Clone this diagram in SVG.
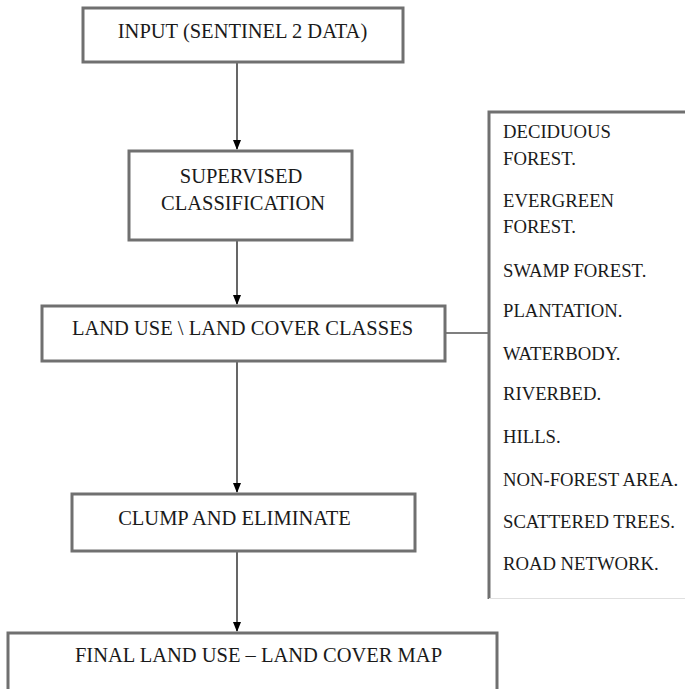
<svg xmlns="http://www.w3.org/2000/svg" width="685" height="689" viewBox="0 0 685 689">
<defs>
<style>
.box{fill:#fff;stroke:#707070;stroke-width:3}
.t{font-family:"Liberation Serif","Times New Roman",serif;font-size:20.5px;fill:#1a1a1a;text-anchor:middle}
.l{font-family:"Liberation Serif","Times New Roman",serif;font-size:18.7px;fill:#1a1a1a}
.c{stroke:#000;stroke-width:1.2;fill:none}
</style>
<marker id="ah" markerWidth="10" markerHeight="10" refX="9" refY="5" orient="auto" markerUnits="userSpaceOnUse">
<path d="M0,1 L10,5 L0,9 Z" fill="#000"/>
</marker>
</defs>
<rect width="685" height="689" fill="#fff"/>
<g id="connectors">
<line class="c" x1="237" y1="63" x2="237" y2="149" marker-end="url(#ah)"/>
<line class="c" x1="237" y1="241" x2="237" y2="304" marker-end="url(#ah)"/>
<line class="c" x1="237" y1="362" x2="237" y2="492" marker-end="url(#ah)"/>
<line class="c" x1="237" y1="552" x2="237" y2="631" marker-end="url(#ah)"/>
<line class="c" x1="446" y1="333" x2="488" y2="333"/>
</g>
<g id="input">
<rect class="box" x="83" y="8" width="320" height="54"/>
<text class="t" x="242.5" y="38">INPUT (SENTINEL 2 DATA)</text>
</g>
<g id="supervised">
<rect class="box" x="129" y="151" width="223" height="89"/>
<text class="t" x="241" y="183">SUPERVISED</text>
<text class="t" x="243" y="210">CLASSIFICATION</text>
</g>
<g id="lulc">
<rect class="box" x="42" y="306" width="403" height="55"/>
<text class="t" x="242.5" y="335">LAND USE \ LAND COVER CLASSES</text>
</g>
<g id="clump">
<rect class="box" x="72" y="494" width="343" height="57"/>
<text class="t" x="234.5" y="525">CLUMP AND ELIMINATE</text>
</g>
<g id="final">
<rect class="box" x="8" y="633" width="489" height="60"/>
<text class="t" x="258.5" y="662">FINAL LAND USE – LAND COVER MAP</text>
</g>
<g id="classes">
<rect x="489" y="112" width="200" height="486" fill="#fff" stroke="none"/>
<path d="M489,599 V112 H690" fill="none" stroke="#707070" stroke-width="3"/>
<line x1="489" y1="598.5" x2="690" y2="598.5" stroke="#e0e0e0" stroke-width="1"/>
<text class="l" x="503" y="138">DECIDUOUS</text>
<text class="l" x="503" y="165">FOREST.</text>
<text class="l" x="503" y="207">EVERGREEN</text>
<text class="l" x="503" y="233">FOREST.</text>
<text class="l" x="503" y="277">SWAMP FOREST.</text>
<text class="l" x="503" y="317">PLANTATION.</text>
<text class="l" x="503" y="360">WATERBODY.</text>
<text class="l" x="503" y="400">RIVERBED.</text>
<text class="l" x="503" y="443">HILLS.</text>
<text class="l" x="503" y="486">NON-FOREST AREA.</text>
<text class="l" x="503" y="528">SCATTERED TREES.</text>
<text class="l" x="503" y="570">ROAD NETWORK.</text>
</g>
</svg>
